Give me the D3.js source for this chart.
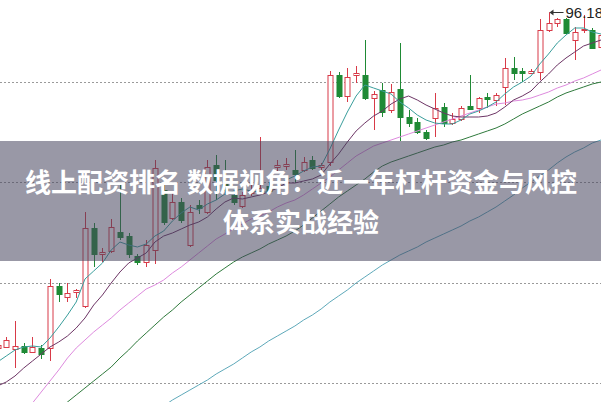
<!DOCTYPE html>
<html><head><meta charset="utf-8">
<script src="https://cdn.jsdelivr.net/npm/d3@7"></script>
<style>html,body{margin:0;padding:0;background:#fff;overflow:hidden}</style>
</head><body>
<svg id="c" width="601" height="402"></svg>
<script>
// ---- data ----
const dayIndex = [-1,0,1,2,3,4,5,6,7,8,9,10,11,12,13,14,15,16,17,18,19,20,21,22,23,24,25,26,27,28,29,30,31,32,33,34,35,36,37,38,39,40,41,42,43,44,45,46,47,48,49,50,51,52,53,54,55,56,57,58,59,60,61,62,63,64,65,66,67,68];
const opens  = [62.6,62.7,62.5,62.8,62.2,62.6,62.6,68.8,67.7,68.2,66.8,74.6,72.0,72.3,74.2,73.8,71.8,71.2,72.4,78.4,75.6,77.2,72.9,76.9,76.2,80.9,79.0,77.9,76.8,78.1,78.2,78.8,80.7,80.8,80.4,80.4,81.4,80.7,81.2,89.9,87.8,89.9,89.9,87.6,88.4,86.4,88.5,85.7,85.2,84.2,85.6,86.7,85.1,85.5,86.8,86.6,87.7,87.4,88.7,90.6,90.3,90.1,90.2,94.4,95.1,95.5,93.4,94.4,94.4,92.7];
const highs  = [63.1,63.7,65.3,63.1,63.7,62.9,69.5,69.1,69.1,68.5,76.2,75.1,72.6,75.5,78.9,74.1,72.0,73.4,81.4,78.9,78.2,77.6,76.9,77.4,81.4,81.9,81.4,78.4,78.2,78.9,83.7,79.2,81.4,81.6,82.4,81.7,81.8,81.1,90.3,90.2,90.6,90.8,93.4,88.3,89.1,89.0,93.1,86.4,85.6,84.4,88.1,87.1,86.1,86.8,89.9,87.7,88.1,88.1,91.6,91.7,90.6,90.5,95.5,96.18,95.6,95.6,94.7,95.9,94.6,94.4];
const lows   = [62.4,62.6,60.6,62.0,62.1,61.5,61.3,67.2,67.2,67.6,66.6,70.7,71.2,72.1,73.4,71.6,70.9,70.7,71.0,74.9,75.4,75.1,72.7,76.0,76.0,77.4,77.9,76.9,76.6,77.8,78.0,77.9,80.2,80.4,79.1,80.2,80.4,80.4,80.8,87.6,87.2,89.1,87.4,84.4,85.7,86.1,83.3,84.7,84.0,83.4,83.7,84.7,84.9,85.3,86.4,86.1,86.6,86.8,86.9,89.4,89.2,90.0,89.4,94.2,94.7,94.0,91.4,94.1,92.6,92.5];
const closes = [62.9,63.4,62.8,62.2,62.7,62.0,68.8,68.0,68.1,68.4,74.6,72.0,72.2,74.7,73.7,72.0,71.2,72.9,80.6,75.2,77.2,75.4,76.2,76.6,80.7,79.4,78.4,77.2,77.9,78.4,78.6,78.3,80.9,81.0,80.0,81.2,80.6,80.9,89.9,87.8,89.7,90.1,87.6,88.0,86.2,88.2,85.7,85.1,84.2,83.6,86.6,85.1,85.5,86.6,86.5,87.6,87.5,87.9,90.6,90.1,90.1,90.3,94.4,95.1,95.5,94.1,94.2,94.5,92.6,93.9];
const ma5   = [61.2,61.8,62.4,62.7,62.8,62.7,63.6,64.7,65.9,67.2,69.5,70.3,71.1,72.4,73.2,72.9,72.7,73.0,73.8,74.3,75.3,76.1,76.7,76.4,77.0,77.4,78.0,78.3,78.5,78.3,78.2,78.2,78.8,79.4,79.8,80.3,80.7,80.8,82.5,84.4,86.2,87.8,88.9,88.6,88.3,88.0,87.2,86.6,85.9,85.4,85.1,85.0,85.0,85.4,86.0,86.3,86.7,87.2,88.0,88.7,89.2,89.8,91.0,92.0,93.1,93.9,94.6,94.6,94.2,94.0];
const ma10  = [58.8,59.2,59.8,60.6,61.3,62.0,62.7,63.2,63.8,64.6,65.6,66.9,67.9,69.1,70.2,71.1,71.6,72.1,73.2,73.8,74.1,74.5,74.9,75.2,75.7,76.5,77.2,77.6,77.5,77.7,77.9,78.2,78.6,79.1,79.1,79.3,79.5,79.9,81.0,82.0,83.2,84.3,85.1,85.8,86.3,87.0,87.5,87.8,87.4,86.9,86.5,86.1,85.8,85.7,85.7,85.7,85.8,86.1,86.7,87.4,87.8,88.3,89.2,90.0,90.9,91.6,92.2,92.8,93.1,93.4];
const ma20  = [null,null,null,55.9,57.1,58.2,59.3,60.4,61.6,62.6,63.4,64.2,64.9,65.6,66.4,67.1,67.8,68.5,68.9,69.4,70.1,70.7,71.4,72.1,72.8,73.5,74.0,74.5,75.0,75.5,75.8,76.2,76.7,77.1,77.4,77.9,78.5,79.1,79.7,80.4,81.1,81.8,82.3,82.8,83.1,83.4,83.7,84.0,84.3,84.6,84.9,85.2,85.5,85.8,86.1,86.4,86.7,87.0,87.1,87.3,87.4,87.6,87.9,88.2,88.6,88.9,89.3,89.6,90.0,90.4];
const ma60  = [null,null,null,null,null,null,null,56.4,57.2,57.9,58.6,59.3,60.0,60.7,61.6,62.4,63.3,64.1,64.9,65.7,66.4,67.2,67.9,68.6,69.3,70.0,70.6,71.2,71.7,72.1,72.5,73.0,73.4,73.8,74.3,74.9,75.6,76.3,77.0,77.7,78.3,78.9,79.5,80.2,80.8,81.2,81.5,81.8,82.1,82.4,82.7,82.9,83.2,83.4,83.7,84.0,84.3,84.6,85.0,85.5,86.0,86.4,86.8,87.2,87.7,88.1,88.4,88.7,89.0,89.2];
const ma120 = [null,null,null,null,null,null,null,null,null,null,null,null,null,null,null,null,null,null,null,56.8,57.4,57.9,58.4,58.9,59.4,60.0,60.5,61.0,61.6,62.2,62.7,63.3,63.8,64.3,64.8,65.4,65.9,66.5,67.2,67.8,68.4,69.1,69.7,70.3,70.9,71.4,71.9,72.3,72.7,73.2,73.6,74.0,74.4,74.8,75.3,75.7,76.2,76.7,77.3,77.9,78.6,79.2,79.8,80.4,81.1,81.7,82.2,82.6,83.1,83.4];
const gridValues = [89.2, 79.2, 69.1, 59.1];
const titleLines = ["线上配资排名 数据视角：近一年杠杆资金与风控", "体系实战经验"];

// ---- drawing ----
const W = 601, H = 402;
const svg = d3.select("#c");
const x = d3.scaleLinear().domain([-1, 68]).range([-2.5, 601]);
const y = d3.scaleLinear().domain([57.2, 97.4]).range([402, 0]);

const UP = "#d83a48", DOWN = "#1f8a35";
const data = dayIndex.map((d, k) => ({i: d, o: opens[k], h: highs[k], l: lows[k], c: closes[k]}));

svg.append("defs").append("clipPath").attr("id", "clip")
  .append("rect").attr("width", W).attr("height", H);
const g = svg.append("g").attr("clip-path", "url(#clip)");

// grid
g.selectAll("line.grid").data(gridValues).join("line")
  .attr("x1", 0).attr("x2", W)
  .attr("y1", d => Math.round(y(d)) + 0.5).attr("y2", d => Math.round(y(d)) + 0.5)
  .attr("stroke", "#9a9a9a").attr("stroke-width", 1).attr("stroke-dasharray", "2,2");

// candles
const cg = g.append("g");
const cx = d => Math.round(x(d.i)) + 0.5;
cg.selectAll("line.wick").data(data).join("line")
  .attr("x1", cx).attr("x2", cx)
  .attr("y1", d => y(d.h)).attr("y2", d => y(d.l))
  .attr("stroke", d => d.c >= d.o ? UP : DOWN).attr("stroke-width", 1);
const bw = 5;
cg.selectAll("rect.body").data(data).join("rect")
  .attr("x", d => cx(d) - bw / 2)
  .attr("width", bw)
  .attr("y", d => Math.round(y(Math.max(d.o, d.c))) + 0.5)
  .attr("height", d => Math.max(0.5, Math.abs(Math.round(y(d.o)) - Math.round(y(d.c)))))
  .attr("fill", d => d.c >= d.o ? "#fff" : DOWN)
  .attr("stroke", d => d.c >= d.o ? UP : DOWN)
  .attr("stroke-width", 1);

// moving averages
const series = [
  {v: ma120, color: "#5ea9ba"},
  {v: ma60, color: "#2f7a3c"},
  {v: ma20, color: "#de8ade"},
  {v: ma10, color: "#6d3565"},
  {v: ma5, color: "#3a9e9c"}
];
const line = d3.line()
  .defined(d => d.v !== null)
  .x(d => x(d.i)).y(d => y(d.v));
series.forEach(s => {
  g.append("path")
    .datum(dayIndex.map((d, k) => ({i: d, v: s.v[k]})))
    .attr("d", line).attr("fill", "none")
    .attr("stroke", s.color).attr("stroke-width", 1);
});

// peak marker
const peakK = d3.maxIndex(highs);
const px = x(dayIndex[peakK]), py = Math.round(y(highs[peakK])) + 0.5;
g.append("line").attr("x1", px + 2).attr("x2", px + 15).attr("y1", py).attr("y2", py)
  .attr("stroke", "#333").attr("stroke-width", 1);
g.append("path").attr("d", `M${px + 1},${py} l4,-3 l0,6 z`).attr("fill", "#333");
g.append("text").attr("x", px + 17).attr("y", py + 5.5)
  .attr("font-family", "Liberation Sans, Arial, sans-serif").attr("font-size", 15)
  .attr("fill", "#222").text(highs[peakK].toFixed(2));

// banner overlay
svg.append("rect").attr("x", 0).attr("y", 141).attr("width", W).attr("height", 120)
  .attr("fill", "rgb(70,68,92)").attr("fill-opacity", 0.55);
svg.selectAll("text.title").data(titleLines).join("text")
  .attr("x", 301).attr("y", (d, k) => 192 + k * 40)
  .attr("text-anchor", "middle")
  .attr("font-family", "'Noto Sans CJK SC', sans-serif")
  .attr("font-weight", "bold").attr("font-size", 26)
  .attr("fill", "#fff").text(d => d);
</script>
</body></html>
